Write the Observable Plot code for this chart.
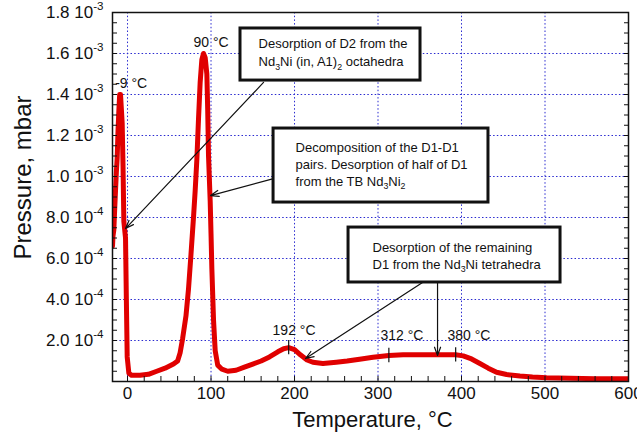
<!DOCTYPE html>
<html><head><meta charset="utf-8">
<script src="https://cdn.jsdelivr.net/npm/d3@7"></script>
<script src="https://cdn.jsdelivr.net/npm/@observablehq/plot@0.6"></script>
<style>body{margin:0;background:#fff}</style>
</head><body><div id="chart"></div>
<script>
// Temperature (°C) and pressure (in units of 10^-3 mbar)
const temperature = [-18,-17.4,-16.4,-15.4,-14.4,-13.4,-12.4,-11.4,-10.4,-9.4,-8.4,-7.4,-6.4,-5.4,-4.4,-3.4,-2.4,-1.4,-0.4,1.6,5,15,25,35,45,55,60,63,66,70,73,76,79,81,83,85,87,89,91,93,95,96,97,99,100,101,103,105,108,113,120,130,140,150,160,170,180,187,193,200,207,215,222,234,250,263,280,294,313,330,350,370,393,402,412,422,432,442,454,470,485,502,530,560,600];
const pressure = [0.66,0.71,0.74,0.84,0.93,1.02,1.09,1.22,1.32,1.40,1.40,1.33,1.26,1.05,0.78,0.74,0.70,0.40,0.12,0.04,0.03,0.03,0.035,0.05,0.065,0.085,0.10,0.14,0.21,0.32,0.45,0.62,0.80,0.93,1.08,1.28,1.46,1.57,1.60,1.58,1.50,1.33,1.10,0.88,0.72,0.55,0.30,0.15,0.08,0.06,0.05,0.055,0.07,0.085,0.10,0.12,0.145,0.16,0.165,0.155,0.13,0.105,0.094,0.088,0.094,0.10,0.11,0.118,0.127,0.13,0.13,0.13,0.13,0.125,0.11,0.088,0.065,0.045,0.034,0.027,0.022,0.018,0.016,0.014,0.013];

const xTicks = [0,100,200,300,400,500,600];
const xGrid = [0,100,200,300,400,500];
const xMinor = [0,20,40,60,80,100,120,140,160,180,200,220,240,260,280,300,320,340,360,380,400,420,440,460,480,500,520,540,560,580,600];
const yTicks = [0.2,0.4,0.6,0.8,1.0,1.2,1.4,1.6,1.8];
const yGrid = [0.2,0.4,0.6,0.8,1.0,1.2,1.4,1.6];
const yMinor = [0.05,0.1,0.15,0.2,0.25,0.3,0.35,0.4,0.45,0.5,0.55,0.6,0.65,0.7,0.75,0.8,0.85,0.9,0.95,1.0,1.05,1.1,1.15,1.2,1.25,1.3,1.35,1.4,1.45,1.5,1.55,1.6,1.65,1.7,1.75];

// Annotations (data space)
const peakLabels = [
  {text: "-9 °C", t: -14.8, p: 1.452},
  {text: "90 °C", t: 79, p: 1.654},
  {text: "192 °C", t: 173.7, p: 0.249},
  {text: "312 °C", t: 303, p: 0.224},
  {text: "380 °C", t: 383.2, p: 0.224}
];
const peakMarks = [{t: 193, p: 0.165}, {t: 313, p: 0.127}, {t: 393, p: 0.13}];
const boxes = [
  {t1: 135.3, t2: 350.9, p1: 1.468, p2: 1.722},
  {t1: 174.9, t2: 432.3, p1: 0.873, p2: 1.234},
  {t1: 264.7, t2: 518.6, p1: 0.483, p2: 0.751}
];
const boxLines = [
  {text: "Desorption of D2 from the", t: 156.9, p: 1.649},
  {text: "Nd_{3}Ni (in, A1)_{2} octahedra", t: 156.9, p: 1.561},
  {text: "Decomposition of the D1-D1", t: 201.2, p: 1.141},
  {text: "pairs. Desorption of half of D1", t: 201.2, p: 1.059},
  {text: "from the TB Nd_{3}Ni_{2}", t: 201.2, p: 0.976},
  {text: "Desorption of the remaining", t: 293.4, p: 0.654},
  {text: "D1 from the Nd_{3}Ni tetrahedra", t: 293.4, p: 0.571}
];
const arrows = [
  {t1: 162.9, p1: 1.459, t2: -2.4, p2: 0.746},
  {t1: 174.9, p1: 0.990, t2: 99.4, p2: 0.907},
  {t1: 353.3, p1: 0.483, t2: 213.2, p2: 0.112},
  {t1: 371.3, p1: 0.483, t2: 371.3, p2: 0.127}
];

const data = temperature.map((t, i) => ({t, p: pressure[i]}));
const fmtY = v => v >= 0.95 ? v.toFixed(1) + " 10^{-3}" : (v * 10).toFixed(1) + " 10^{-4}";
const grid = {stroke: "#2a2ad0", strokeOpacity: 1, strokeDasharray: "1.5,2.2", strokeWidth: 1};

const chart = Plot.plot({
  width: 637, height: 433,
  marginLeft: 112, marginRight: 9, marginTop: 12, marginBottom: 52,
  style: {fontFamily: "'Liberation Sans', Arial, Helvetica, sans-serif", fontSize: "17px", color: "#111", background: "#fff"},
  x: {domain: [-18, 600]},
  y: {domain: [0, 1.8]},
  marks: [
    Plot.gridX(xGrid, grid),
    Plot.gridY(yGrid, grid),
    Plot.line(data, {x: "t", y: "p", stroke: "#e00000", strokeWidth: 5, strokeLinejoin: "round", clip: true}),
    Plot.ruleX(peakMarks, {x: "t", y1: d => d.p - 0.035, y2: d => d.p + 0.035, stroke: "#111", strokeWidth: 1.2}),
    Plot.arrow(arrows, {x1: "t1", y1: "p1", x2: "t2", y2: "p2", stroke: "#111", strokeWidth: 1.2, headLength: 11, headAngle: 40}),
    Plot.rect(boxes, {x1: "t1", x2: "t2", y1: "p1", y2: "p2", fill: "#fff", stroke: "#111", strokeWidth: 3}),
    Plot.text(boxLines, {x: "t", y: "p", text: "text", textAnchor: "start", fontSize: 13, fill: "#111"}),
    Plot.text(peakLabels, {x: "t", y: "p", text: "text", textAnchor: "start", fontSize: 14, fill: "#111"}),
    Plot.frame({stroke: "#111", strokeWidth: 1.5}),
    Plot.axisX(xTicks, {tickSize: 0, tickPadding: 5, label: null}),
    Plot.axisX(xMinor, {tickSize: -5, fill: "none", label: null}),
    Plot.axisY(yTicks, {tickSize: 0, tickPadding: 9, tickFormat: fmtY, label: null}),
    Plot.axisY(yMinor, {tickSize: -5, fill: "none", label: null}),
    Plot.axisY(yMinor, {anchor: "right", tickSize: -5, fill: "none", label: null}),
    Plot.text(["Temperature, °C"], {frameAnchor: "bottom", x: [293.4], text: d => d, dy: 45, fontSize: 22}),
    Plot.text(["Pressure, mbar"], {frameAnchor: "left", textAnchor: "middle", y: [0.995], text: d => d, dx: -89, rotate: -90, fontSize: 24})
  ]
});
document.getElementById("chart").appendChild(chart);

// rich text: _{sub} and ^{sup}
chart.querySelectorAll("text").forEach(t => {
  const s = t.textContent;
  if (!/[_^]\{/.test(s)) return;
  const fs = parseFloat(getComputedStyle(t).fontSize) || 14;
  t.textContent = "";
  const re = /([_^])\{([^}]*)\}/g;
  let last = 0, shift = 0, m;
  const add = (txt, dy, small) => {
    const ts = document.createElementNS("http://www.w3.org/2000/svg", "tspan");
    ts.textContent = txt;
    if (dy) ts.setAttribute("dy", dy);
    if (small) ts.setAttribute("font-size", (fs * 0.68).toFixed(1));
    t.appendChild(ts);
  };
  while ((m = re.exec(s))) {
    if (m.index > last) { add(s.slice(last, m.index), -shift, false); shift = 0; }
    const d = m[1] === "_" ? fs * 0.3 : -fs * 0.45;
    add(m[2], d - shift, true);
    shift = d;
    last = re.lastIndex;
  }
  if (last < s.length) add(s.slice(last), -shift, false);
});
</script>
</body></html>
